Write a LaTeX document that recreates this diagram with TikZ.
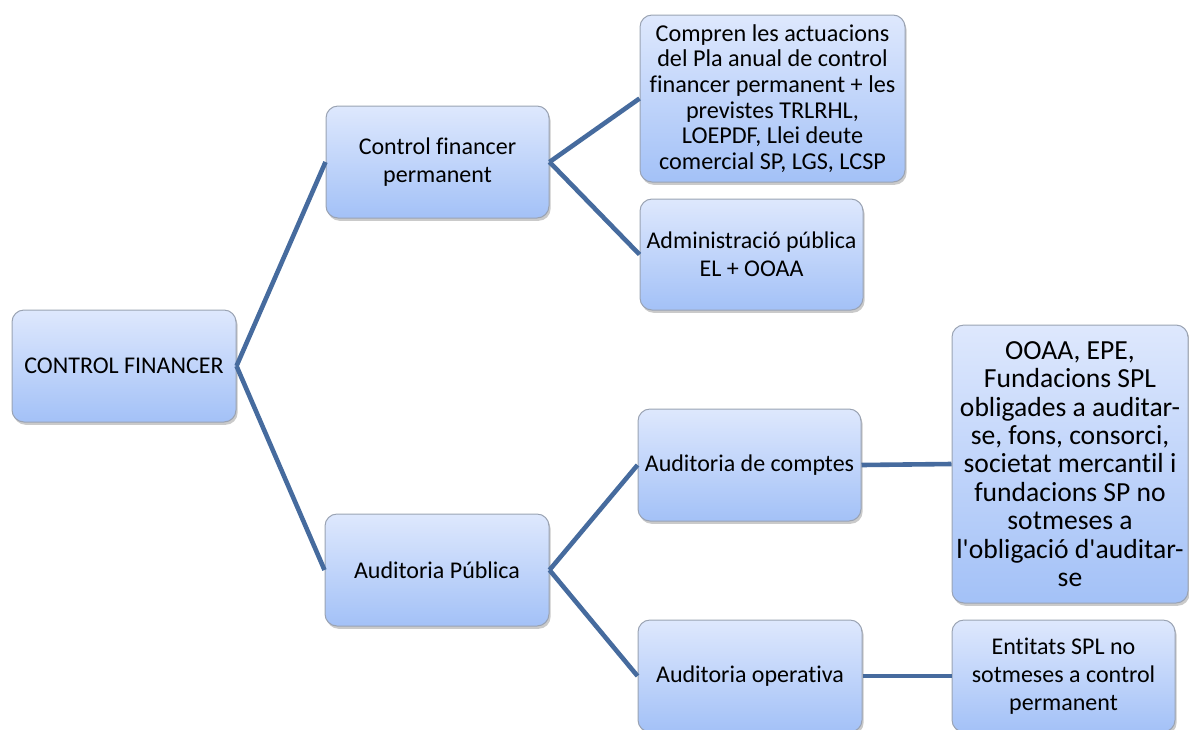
\documentclass[tikz,border=0pt]{standalone}
\usepackage{fontspec}
\setmainfont{Carlito}[Ligatures={NoCommon}]
\usetikzlibrary{shadows}
\definecolor{boxtop}{HTML}{DEE8FD}
\definecolor{boxbot}{HTML}{A3C1F7}
\definecolor{boxedge}{HTML}{9AA3B3}
\definecolor{linkcol}{HTML}{466B9E}
\tikzset{
  box/.style={draw=boxedge, line width=0.5pt, rounded corners=6pt,
    top color=boxtop, bottom color=boxbot, align=center, inner sep=0pt,
    font=\fontsize{12}{14}\selectfont, text=black,
    drop shadow={shadow xshift=0.8pt, shadow yshift=-1.4pt, opacity=0.35, fill=black!60}},
  link/.style={draw=linkcol, line width=2.3pt}
}
\begin{document}
\begin{tikzpicture}[x=0.5pt,y=-0.5pt]
\useasboundingbox (0,0) rectangle (1189,729);
\node[box, minimum width=112pt, minimum height=56pt] (root) at (124,366) {CONTROL FINANCER};
\node[box, minimum width=111.5pt, minimum height=56pt] (cfp) at (437.5,162) {Control financer\\permanent};
\node[box, minimum width=112pt, minimum height=56pt] (ap) at (437,570) {Auditoria Pública};
\node[box, minimum width=132.5pt, minimum height=83.5pt, font=\fontsize{12.1}{12.8}\selectfont] (comp) at (772.5,98.5) {Compren les actuacions\\del Pla anual de control\\financer permanent + les\\previstes TRLRHL,\\LOEPDF, Llei deute\\comercial SP, LGS, LCSP};
\node[box, minimum width=111.5pt, minimum height=55.5pt] (adm) at (751.5,254.5) {Administració pública\\EL + OOAA};
\node[box, minimum width=111.5pt, minimum height=56pt] (adc) at (749.5,465) {Auditoria de comptes};
\node[box, minimum width=112pt, minimum height=56pt] (ao) at (750,676) {Auditoria operativa};
\node[box, minimum width=118pt, minimum height=139pt, font=\fontsize{13.8}{14.2}\selectfont] (ooaa) at (1070,464) {OOAA, EPE,\\Fundacions SPL\\obligades a auditar-\\se, fons, consorci,\\societat mercantil i\\fundacions SP no\\sotmeses a\\l\textquotesingle obligació d\textquotesingle auditar-\\se};
\node[box, minimum width=111.5pt, minimum height=56pt] (ent) at (1063.5,676) {Entitats SPL no\\sotmeses a control\\permanent};
\path[link] (root.east) -- (cfp.west);
\path[link] (root.east) -- (ap.west);
\path[link] (cfp.east) -- (comp.west);
\path[link] (cfp.east) -- (adm.west);
\path[link] (ap.east) -- (adc.west);
\path[link] (ap.east) -- (ao.west);
\path[link] (adc.east) -- (ooaa.west);
\path[link] (ao.east) -- (ent.west);
\end{tikzpicture}
\end{document}
